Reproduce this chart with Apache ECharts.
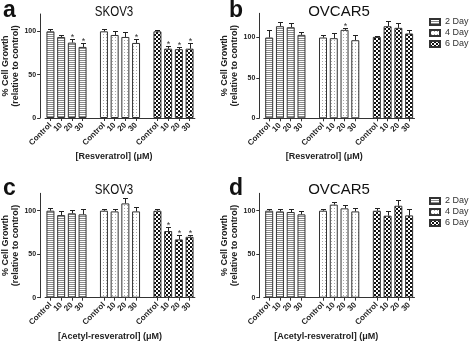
<!DOCTYPE html>
<html>
<head>
<meta charset="utf-8">
<script src="https://cdn.jsdelivr.net/npm/echarts@6/dist/echarts.min.js"></script>
<style>
html, body { margin: 0; padding: 0; background: #fff; }
#main { width: 472px; height: 343px; }
</style>
</head>
<body>
<div id="main"></div>
<script>
// doses on the x axis, repeated for each day group
const doses = ['Control', '10', '20', '30'];
const days = ['2 Day', '4 Day', '6 Day'];
const yTicks = [0, 50, 100];

// values per bar, in order 2 Day (4 doses), 4 Day, 6 Day
// a: SKOV3 + resveratrol
const skovResMean = [100, 93.5, 87, 82, 100, 95.8, 93.5, 86.6, 100, 80, 79.4, 80];
const skovResErr = [3, 2.5, 4, 4.6, 2.7, 4.6, 6.1, 5, 1, 3.6, 2.6, 6];
const skovResSig = [0, 0, 1, 1, 0, 0, 0, 1, 0, 1, 1, 1];
// b: OVCAR5 + resveratrol
const ovcResMean = [100, 114, 112.8, 103.3, 100, 99.2, 109.5, 96.7, 100.8, 114, 112, 105];
const ovcResErr = [9.5, 5, 5, 3.7, 3.3, 6.6, 1.7, 7, 1.2, 7, 6.6, 4];
const ovcResSig = [0, 0, 0, 0, 0, 0, 1, 0, 0, 0, 0, 0];
// c: SKOV3 + acetyl-resveratrol
const skovAcMean = [100, 95, 97, 95.8, 100, 99.2, 108.4, 99.2, 100, 76.6, 67, 70];
const skovAcErr = [3.4, 4.2, 3.8, 6.2, 2, 3.1, 6.2, 4.6, 2, 5, 5.4, 2];
const skovAcSig = [0, 0, 0, 0, 0, 0, 0, 0, 0, 1, 1, 1];
// d: OVCAR5 + acetyl-resveratrol
const ovcAcMean = [100, 99.2, 98.5, 95.8, 100, 107, 102.7, 99.2, 100, 94.3, 105.7, 94.6];
const ovcAcErr = [2.3, 3.1, 3, 4.2, 1.5, 3.3, 4.2, 3.8, 3.4, 4.9, 6.2, 7.4];
const ovcAcSig = [0, 0, 0, 0, 0, 0, 0, 0, 0, 0, 0, 0];

const FONT = 'Liberation Sans';

// category slots: 4 doses, blank spacer, 4 doses, blank spacer, 4 doses
const cats = [];
days.forEach((d, g) => {
    if (g > 0) cats.push('');
    doses.forEach(x => cats.push(x));
});
const slotOf = i => Math.floor(i / 4) * 5 + (i % 4);

function makePattern(kind) {
    const c = document.createElement('canvas');
    const ctx = c.getContext('2d');
    if (kind === 0) {
        c.width = 4; c.height = 2;
        ctx.fillStyle = '#fff'; ctx.fillRect(0, 0, 4, 2);
        ctx.fillStyle = '#8a8a8a'; ctx.fillRect(0, 0, 4, 1);
    } else if (kind === 1) {
        c.width = 3; c.height = 3;
        ctx.fillStyle = '#fff'; ctx.fillRect(0, 0, 3, 3);
        ctx.fillStyle = '#a8a8a8'; ctx.fillRect(1, 1, 1, 1);
    } else {
        c.width = 4; c.height = 4;
        ctx.fillStyle = '#fff'; ctx.fillRect(0, 0, 4, 4);
        ctx.fillStyle = '#111';
        ctx.fillRect(0, 0, 2, 2); ctx.fillRect(2, 2, 2, 2);
    }
    return { image: c, repeat: 'repeat' };
}
const patterns = [makePattern(0), makePattern(1), makePattern(2)];

const panels = [
    { mean: skovResMean, err: skovResErr, sig: skovResSig, title: 'SKOV3', letter: 'a', xName: '[Resveratrol] (μM)',
      max: 120, grid: { left: 45.1, top: 14, width: 149.8, height: 104 }, yOff: 5, nameShift: 6,
      titleX: 114, titleY: 12, titleScale: 0.77, letterX: 3, letterY: 11 },
    { mean: ovcResMean, err: ovcResErr, sig: ovcResSig, title: 'OVCAR5', letter: 'b', xName: '[Resveratrol] (μM)',
      max: 130, grid: { left: 263.8, top: 13.3, width: 150.7, height: 105 }, yOff: 4.5, nameShift: 15,
      titleX: 339, titleY: 12, titleScale: 1, letterX: 229, letterY: 11 },
    { mean: skovAcMean, err: skovAcErr, sig: skovAcSig, title: 'SKOV3', letter: 'c', xName: '[Acetyl-resveratrol] (μM)',
      max: 120, grid: { left: 45.1, top: 193.3, width: 149.8, height: 104.4 }, yOff: 5, nameShift: 10,
      titleX: 114, titleY: 190, titleScale: 0.77, letterX: 3, letterY: 189 },
    { mean: ovcAcMean, err: ovcAcErr, sig: ovcAcSig, title: 'OVCAR5', letter: 'd', xName: '[Acetyl-resveratrol] (μM)',
      max: 120, grid: { left: 263.8, top: 193.3, width: 150.7, height: 104.4 }, yOff: 4.5, nameShift: 13,
      titleX: 339, titleY: 190, titleScale: 1, letterX: 229, letterY: 189 }
];

function renderErr(params, api) {
    const base = api.coord([api.value(0), api.value(1)]);
    const top = api.coord([api.value(0), api.value(2)]);
    const x = Math.round(base[0]) + 0.5;
    const y = Math.round(top[1]) + 0.5;
    const children = [
        { type: 'line', shape: { x1: x, y1: base[1], x2: x, y2: y }, style: { stroke: '#222', lineWidth: 1 } },
        { type: 'line', shape: { x1: x - 2.5, y1: y, x2: x + 2.5, y2: y }, style: { stroke: '#222', lineWidth: 1 } }
    ];
    if (api.value(3)) {
        children.push({ type: 'text', x: x, y: y - 2,
            style: { text: '*', fill: '#333', font: '9px "' + FONT + '"', align: 'center', verticalAlign: 'middle' } });
    }
    return { type: 'group', children };
}

const grids = [], xAxes = [], yAxes = [], series = [], texts = [];
panels.forEach((p, k) => {
    grids.push(Object.assign({ outerBoundsMode: 'none', containLabel: false }, p.grid));
    xAxes.push({
        type: 'category', gridIndex: k, data: cats, boundaryGap: true,
        name: p.xName, nameLocation: 'middle', nameGap: 34,
        nameTextStyle: { fontFamily: FONT, fontSize: 9, fontWeight: 'bold', color: '#222', padding: [0, p.nameShift * 2, 0, 0] },
        axisLine: { show: true, lineStyle: { color: '#333', width: 1 } },
        axisTick: { show: true, alignWithLabel: true, length: 3, interval: (i, v) => v !== '', lineStyle: { color: '#333' } },
        axisLabel: { interval: 0, rotate: 45, margin: 6, fontFamily: FONT, fontSize: 8, fontWeight: 'bold', color: '#222' },
        splitLine: { show: false }
    });
    yAxes.push({
        type: 'value', gridIndex: k, min: 0, max: p.max, interval: 50, offset: p.yOff,
        name: '% Cell Growth\n(relative to control)', nameLocation: 'middle', nameGap: 20, nameRotate: 90,
        nameMoveOverlap: false,
        nameTextStyle: { fontFamily: FONT, fontSize: 9, fontWeight: 'bold', color: '#222', lineHeight: 10 },
        axisLine: { show: true, lineStyle: { color: '#333', width: 1 } },
        axisTick: { show: true, length: 3, customValues: yTicks, lineStyle: { color: '#333' } },
        axisLabel: { margin: 4, customValues: yTicks, fontFamily: FONT, fontSize: 7, fontWeight: 'bold', color: '#222' },
        splitLine: { show: false }
    });
    days.forEach((day, d) => {
        const data = cats.map(() => '-');
        for (let i = d * 4; i < d * 4 + 4; i++) data[slotOf(i)] = p.mean[i];
        series.push({
            type: 'bar', name: day, xAxisIndex: k, yAxisIndex: k, barWidth: 8, barGap: '-100%',
            itemStyle: { color: patterns[d], borderColor: '#333', borderWidth: 1 },
            emphasis: { disabled: true }, data
        });
    });
    series.push({
        type: 'custom', xAxisIndex: k, yAxisIndex: k, z: 5, clip: false, renderItem: renderErr,
        data: p.mean.map((m, i) => [slotOf(i), m, m + p.err[i], p.sig[i]])
    });
    texts.push({ type: 'text', x: p.titleX, y: p.titleY, scaleX: p.titleScale,
        style: { text: p.title, font: '15px "' + FONT + '"', fill: '#111', align: 'center', verticalAlign: 'middle' } });
    texts.push({ type: 'text', x: p.letterX, y: p.letterY,
        style: { text: p.letter, font: 'bold 23px "' + FONT + '"', fill: '#111', align: 'left', verticalAlign: 'middle' } });
});

const legendBase = {
    orient: 'vertical', left: 429, data: days, icon: 'rect', itemWidth: 10, itemHeight: 6, itemGap: 1, padding: 0,
    textStyle: { fontFamily: FONT, fontSize: 9, color: '#333', lineHeight: 10 }, selectedMode: false
};

const myChart = echarts.init(document.getElementById('main'), null, { renderer: 'canvas' });
myChart.setOption({
    animation: false,
    backgroundColor: '#fff',
    textStyle: { fontFamily: FONT },
    graphic: texts,
    legend: [
        Object.assign({}, legendBase, { top: 17 }),
        Object.assign({}, legendBase, { top: 196 })
    ],
    tooltip: { show: false },
    grid: grids,
    xAxis: xAxes,
    yAxis: yAxes,
    series
});
</script>
</body>
</html>
